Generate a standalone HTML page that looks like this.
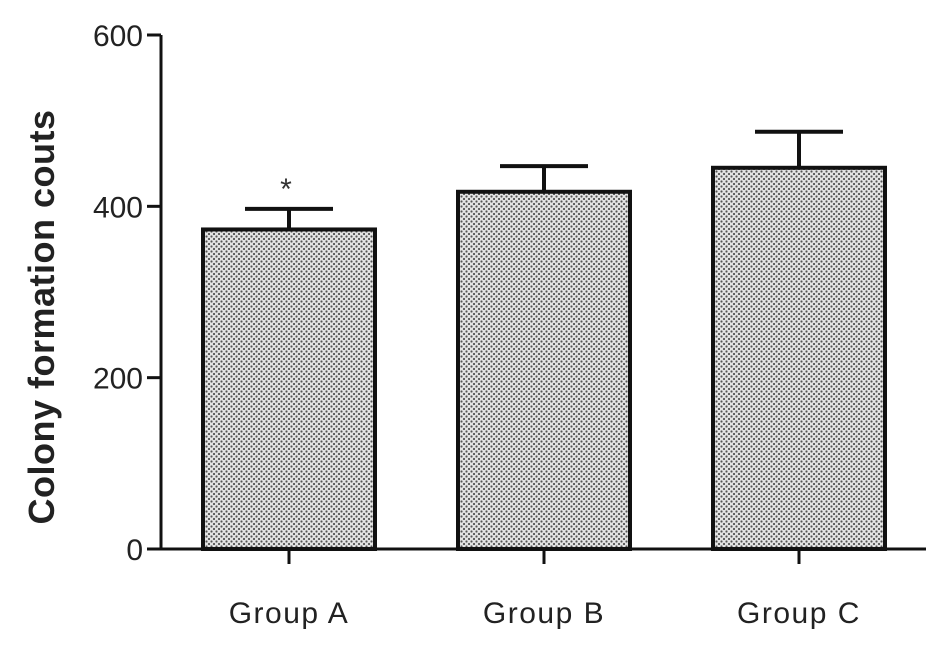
<!DOCTYPE html>
<html><head><meta charset="utf-8"><style>
body{margin:0;background:#fff;}
svg{display:block;font-family:"Liberation Sans",Arial,sans-serif;}
</style></head><body>
<svg id="chart" width="945" height="650" viewBox="0 0 945 650">
<defs>
<pattern id="dots" width="5" height="5" patternUnits="userSpaceOnUse">
<rect width="5" height="5" fill="#e4e4e4"/>
<circle cx="1.5" cy="1.5" r="1.1" fill="#555"/>
<circle cx="4" cy="4" r="1.1" fill="#555"/>
</pattern>
</defs>
<g id="plot"></g>
<text transform="translate(54,317) rotate(-90)" text-anchor="middle" font-size="36" font-weight="bold" letter-spacing="0.5" fill="#222">Colony formation couts</text>
</svg>
<script>
const categories=["Group A","Group B","Group C"];
const values=[373,417,445];
const errors=[24,30,42];
const yTicks=[0,200,400,600];
const annotations=["*","",""];
const NS="http://www.w3.org/2000/svg";
const g=document.getElementById('plot');
const y0=549,yTop=35,yMax=600;
function y(v){return y0-(v/yMax)*(y0-yTop);}
const x0=161,step=255,firstC=289,barW=172;
function xc(i){return firstC+i*step;}
function el(t,a){const e=document.createElementNS(NS,t);for(const k in a)e.setAttribute(k,a[k]);g.appendChild(e);return e;}
categories.forEach((c,i)=>{
 const cx=xc(i),top=y(values[i]),et=y(values[i]+errors[i]);
 const eb=el('line',{x1:cx,x2:cx,y1:top,y2:et,stroke:'#111','stroke-width':4});
 
 
 const cap=el('line',{x1:cx-44,x2:cx+44,y1:et,y2:et,stroke:'#111','stroke-width':4});
 
 
 const r=el('rect',{x:cx-barW/2,y:top,width:barW,height:y0-top,fill:'url(#dots)',stroke:'#111','stroke-width':4});
 
 
 const t=el('line',{x1:cx,x2:cx,y1:y0,y2:y0+15,stroke:'#111','stroke-width':3});
 
 
 const l=el('text',{x:cx,y:623,'text-anchor':'middle','font-size':30,'letter-spacing':1.5,fill:'#222'});
 l.textContent=c;
 
 
 if(annotations[i]){
  const a=el('text',{x:cx-3,y:et-10,'text-anchor':'middle','font-size':30,fill:'#333'});
  a.textContent=annotations[i];
  
  
 }
});
const ya=el('line',{x1:x0,x2:x0,y1:yTop,y2:y0+1.5,stroke:'#111','stroke-width':3});


const xa=el('line',{x1:x0-1.5,x2:x0+step*3,y1:y0,y2:y0,stroke:'#111','stroke-width':3});


yTicks.forEach(v=>{
 const t=el('line',{x1:x0-14,x2:x0,y1:y(v),y2:y(v),stroke:'#111','stroke-width':3});
 
 
 const l=el('text',{x:x0-18,y:y(v)+11,'text-anchor':'end','font-size':30,fill:'#222'});
 l.textContent=v;
 
 
});
</script>
</body></html>
